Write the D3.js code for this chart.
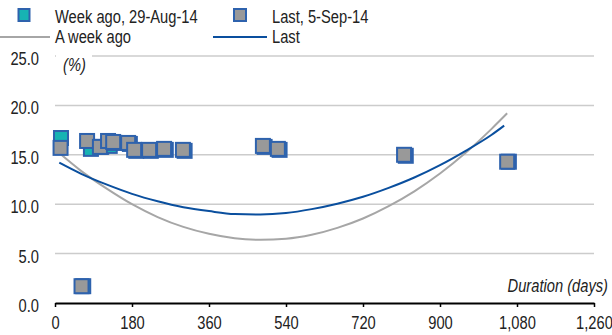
<!DOCTYPE html>
<html>
<head>
<meta charset="utf-8">
<script src="https://cdn.jsdelivr.net/npm/d3@7"></script>
<style>
  html, body { margin: 0; padding: 0; background: #fff; }
  svg { display: block; font-family: "Liberation Sans", Arial, sans-serif; }
</style>
</head>
<body>
<svg id="chart" width="612" height="335"></svg>
<script>
// ---- Data ----
const xTicks = [0, 180, 360, 540, 720, 900, 1080, 1260];
const yTicks = [0, 5, 10, 15, 20, 25];

// Scatter: "Week ago, 29-Aug-14"
const weekDur = [14, 66, 84, 108, 128, 140, 175, 190, 224, 259, 303, 490, 525, 820, 1061];
const weekYld = [16.7, 1.7, 15.6, 15.8, 15.9, 16.2, 16.1, 15.4, 15.4, 15.5, 15.4, 15.8, 15.5, 14.9, 14.3];

// Scatter: "Last, 5-Sep-14"
const lastDur = [13, 62, 75, 105, 124, 136, 171, 185, 220, 255, 299, 486, 521, 816, 1057];
const lastYld = [15.7, 1.7, 16.4, 15.8, 16.4, 16.3, 16.2, 15.5, 15.5, 15.6, 15.5, 15.9, 15.6, 15.0, 14.3];

// Fitted curve "A week ago"
const weekCurveDur = [12, 60, 120, 180, 240, 300, 360, 420, 480, 540, 600, 660, 720, 780, 840, 900, 960, 1020, 1057];
const weekCurveYld = [15.1, 13.4, 11.6, 10.0, 8.7, 7.7, 7.0, 6.55, 6.4, 6.5, 6.9, 7.6, 8.55, 9.8, 11.3, 13.1, 15.2, 17.6, 19.2];

// Fitted curve "Last"
const lastCurveDur = [10, 60, 120, 180, 240, 300, 360, 420, 480, 540, 600, 660, 720, 780, 840, 900, 960, 1020, 1050];
const lastCurveYld = [14.2, 13.1, 12.0, 11.05, 10.3, 9.7, 9.3, 9.0, 8.95, 9.1, 9.5, 10.05, 10.75, 11.65, 12.7, 13.95, 15.4, 17.0, 17.95];

// ---- Styles ----
const TEAL = "#17b3b3", GRAY = "#999999", MARK_STROKE = "#2e62ad";
const LINE_GRAY = "#a6a6a6", LINE_BLUE = "#0a4f9e";
const FS = 17.5, SX = 0.84, TXT = "#222";

const svg = d3.select("#chart");
const x = d3.scaleLinear().domain([0, 1260]).range([55, 594]);
const y = d3.scaleLinear().domain([0, 25]).range([303, 56]);

// condensed text helper
function label(parent, tx, ty, str, anchor = "start", italic = false) {
  return parent.append("text")
    .attr("transform", `translate(${tx},${ty}) scale(${SX},1)`)
    .attr("text-anchor", anchor).attr("font-size", FS).attr("fill", TXT)
    .attr("font-style", italic ? "italic" : null)
    .text(str);
}

// gridlines
svg.append("g").selectAll("line").data(yTicks.filter(d => d > 0)).join("line")
  .attr("x1", x(0)).attr("x2", x(1260))
  .attr("y1", d => y(d)).attr("y2", d => y(d))
  .attr("stroke", "#cccccc").attr("stroke-width", 1.5);

// y tick labels
const gy = svg.append("g");
yTicks.forEach(t => label(gy, 39, y(t) + 9, d3.format(".1f")(t), "end"));

// (%) label with white box
svg.append("rect").attr("x", 56).attr("y", 52).attr("width", 36).attr("height", 20).attr("fill", "#fff");
label(svg, 63, 71, "(%)", "start", true);

// x axis
const xAxis = d3.axisBottom(x).tickValues(xTicks).tickSize(4).tickSizeOuter(0)
  .tickFormat(d3.format(","));
const gx = svg.append("g").attr("transform", `translate(0,${y(0)})`).call(xAxis);
gx.select(".domain").attr("stroke", "#000").attr("stroke-width", 2);
gx.selectAll(".tick line").attr("stroke", "#000").attr("stroke-width", 1.5);
gx.selectAll(".tick text").attr("font-size", FS).attr("fill", TXT)
  .attr("font-family", null).attr("dy", 0).attr("y", null)
  .attr("transform", `translate(0,26) scale(${SX},1)`);

label(svg, 608, 292, "Duration (days)", "end", true);

// curves
const line = d3.line().x(d => x(d[0])).y(d => y(d[1])).curve(d3.curveMonotoneX);
svg.append("path").datum(d3.zip(weekCurveDur, weekCurveYld))
  .attr("d", line).attr("fill", "none").attr("stroke", LINE_GRAY).attr("stroke-width", 2);
svg.append("path").datum(d3.zip(lastCurveDur, lastCurveYld))
  .attr("d", line).attr("fill", "none").attr("stroke", LINE_BLUE).attr("stroke-width", 2);

// markers
const S = 14;
function markers(dur, yld, fill) {
  svg.append("g").selectAll("rect").data(d3.zip(dur, yld)).join("rect")
    .attr("x", d => x(d[0]) - S / 2).attr("y", d => y(d[1]) - S / 2)
    .attr("width", S).attr("height", S)
    .attr("fill", fill).attr("stroke", MARK_STROKE).attr("stroke-width", 2);
}
markers(weekDur, weekYld, TEAL);
markers(lastDur, lastYld, GRAY);

// legend
const lg = svg.append("g");
lg.append("rect").attr("x", 18.5).attr("y", 9).attr("width", 11).attr("height", 12)
  .attr("fill", TEAL).attr("stroke", MARK_STROKE).attr("stroke-width", 2);
label(lg, 55, 23, "Week ago, 29-Aug-14");
lg.append("rect").attr("x", 234).attr("y", 9).attr("width", 12).attr("height", 12)
  .attr("fill", GRAY).attr("stroke", MARK_STROKE).attr("stroke-width", 2);
label(lg, 272, 23, "Last, 5-Sep-14");
lg.append("line").attr("x1", 0).attr("x2", 50).attr("y1", 37).attr("y2", 37)
  .attr("stroke", LINE_GRAY).attr("stroke-width", 2);
label(lg, 55, 43, "A week ago");
lg.append("line").attr("x1", 213).attr("x2", 267).attr("y1", 37).attr("y2", 37)
  .attr("stroke", LINE_BLUE).attr("stroke-width", 2);
label(lg, 272, 43, "Last");
</script>
</body>
</html>
